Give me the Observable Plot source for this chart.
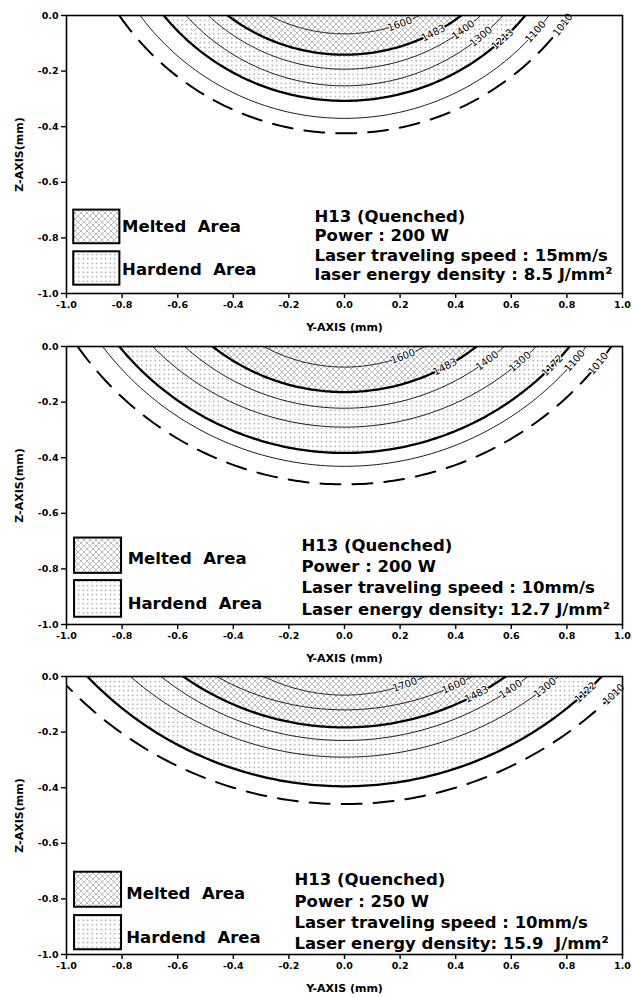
<!DOCTYPE html>
<html><head><meta charset="utf-8">
<script src="https://cdn.jsdelivr.net/npm/d3@7"></script>
<script src="https://cdn.jsdelivr.net/npm/@observablehq/plot@0.6"></script>
<style>
html,body{margin:0;padding:0;background:#fff;}
#charts svg{display:block;}
svg text{white-space:pre;}
</style></head>
<body>
<svg width="0" height="0" style="position:absolute">
<defs>
<pattern id="melt" patternUnits="userSpaceOnUse" width="6" height="6">
<rect width="6" height="6" fill="#fff"/>
<path d="M0,0L6,6M6,0L0,6M-1,5L1,7M5,-1L7,1M-1,1L1,-1M5,7L7,5" stroke="#9c9c9c" stroke-width="0.65" fill="none"/>
<rect x="2.5" y="2.5" width="1" height="1" fill="#b0b0b0"/>
</pattern>
<pattern id="hard" patternUnits="userSpaceOnUse" width="4.5" height="4.5">
<rect width="4.5" height="4.5" fill="#fff"/>
<rect x="1.6" y="1.6" width="1.3" height="1.3" fill="#8a8a8a"/>
</pattern>
</defs></svg>
<div id="charts"></div>
<script>
// ---- data ----
const xTicks = [-1.0, -0.8, -0.6, -0.4, -0.2, 0.0, 0.2, 0.4, 0.6, 0.8, 1.0];
const zTicks = [-1.0, -0.8, -0.6, -0.4, -0.2, 0.0];
const legendLabels = ["Melted  Area", "Hardend  Area"];
const xTitle = "Y-AXIS (mm)";
const zTitle = "Z-AXIS(mm)";

// isotherms (°C): half width at the surface (mm) and depth at the centre (mm)
const p1Isotherms = [1600, 1483, 1400, 1300, 1213, 1100, 1010];
const p1HalfWidth = [0.27, 0.42, 0.49, 0.57, 0.65, 0.735, 0.81];
const p1Depth     = [0.066, 0.141, 0.193, 0.253, 0.307, 0.37, 0.424];
const p1Harden = 1213;
const p1Info = ["H13 (Quenched)", "Power : 200 W", "Laser traveling speed : 15mm/s", "laser energy density : 8.5 J/mm\u00B2"];

const p2Isotherms = [1600, 1483, 1400, 1300, 1172, 1100, 1010];
const p2HalfWidth = [0.29, 0.475, 0.575, 0.69, 0.81, 0.87, 0.96];
const p2Depth     = [0.074, 0.164, 0.222, 0.29, 0.383, 0.431, 0.496];
const p2Harden = 1172;
const p2Info = ["H13 (Quenched)", "Power : 200 W", "Laser traveling speed : 10mm/s", "Laser energy density: 12.7 J/mm\u00B2"];

const p3Isotherms = [1700, 1600, 1483, 1400, 1300, 1122, 1010];
const p3HalfWidth = [0.29, 0.46, 0.58, 0.66, 0.77, 0.925, 1.03];
const p3Depth     = [0.067, 0.12, 0.183, 0.23, 0.29, 0.395, 0.459];
const p3Harden = 1122;
const p3Info = ["H13 (Quenched)", "Power : 250 W", "Laser traveling speed : 10mm/s", "Laser energy density: 15.9  J/mm\u00B2"];

const meltTemp = 1483;
const dashTemp = 1010;

// ---- layout / style (not data) ----
const FONT = "DejaVu Sans";
const layouts = [
  {height: 336, marginTop: 15, marginBottom: 43, labelAt: [0.47, 0.45, 0.27, 0.30, 0.28, 0.16, 0.08],
   infoX: -0.108, infoY: -0.824, lineHeight: 1.18,
   boxX: [-0.974, -0.808], boxM: [-0.821, -0.70], boxH: [-0.97, -0.85], legX: -0.80, legY: [-0.758, -0.915]},
  {height: 330, marginTop: 10, marginBottom: 42, labelAt: [0.49, 0.45, 0.23, 0.19, 0.18, 0.12, 0.125],
   infoX: -0.155, infoY: -0.825, lineHeight: 1.29,
   boxX: [-0.971, -0.802], boxM: [-0.816, -0.689], boxH: [-0.974, -0.842], legX: -0.78, legY: [-0.764, -0.926]},
  {height: 332, marginTop: 10, marginBottom: 44, labelAt: [0.45, 0.28, 0.35, 0.2, 0.14, 0.145, 0.14],
   infoX: -0.18, infoY: -0.842, lineHeight: 1.29,
   boxX: [-0.971, -0.802], boxM: [-0.83, -0.704], boxH: [-0.983, -0.86], legX: -0.785, legY: [-0.78, -0.94]}
];

const panelsData = [
  {iso: p1Isotherms, hw: p1HalfWidth, dp: p1Depth, harden: p1Harden, info: p1Info},
  {iso: p2Isotherms, hw: p2HalfWidth, dp: p2Depth, harden: p2Harden, info: p2Info},
  {iso: p3Isotherms, hw: p3HalfWidth, dp: p3Depth, harden: p3Harden, info: p3Info}
];

// circular arc through (-a,0), (0,-b), (a,0)
function arcGeom(a, b) {
  const c = (a * a - b * b) / (2 * b), R = (a * a + b * b) / (2 * b);
  return {c, R};
}
function arc(a, b, t, n = 140) {
  const {c, R} = arcGeom(a, b);
  const p0 = Math.asin(Math.min(1, a / R));
  return d3.range(n + 1).map(i => {
    const p = -p0 + (2 * p0 * i) / n;
    return {x: R * Math.sin(p), z: c - R * Math.cos(p), t};
  });
}

const fmt = d => d.toFixed(1);

function makePanel(d, L) {
  const contours = d.iso.map((t, i) => ({t, a: d.hw[i], b: d.dp[i], g: L.labelAt[i]}));
  const ptsOf = t => { const c = contours.find(k => k.t === t); return arc(c.a, c.b, t); };
  const thin = contours.filter(c => c.t !== meltTemp && c.t !== d.harden && c.t !== dashTemp).flatMap(c => arc(c.a, c.b, c.t));
  const thick = [meltTemp, d.harden].flatMap(ptsOf);
  const dashed = ptsOf(dashTemp);
  const labels = contours.map(c => {
    const {R, c: cc} = arcGeom(c.a, c.b);
    const z = -c.g * c.b;
    const x = Math.sqrt(Math.max(0, R * R - (cc - z) * (cc - z)));
    return {x, z, text: String(c.t), rot: -Math.atan2(x, cc - z) * 180 / Math.PI};
  });
  const txt = {fontFamily: FONT, fontWeight: "bold", fill: "black"};
  return Plot.plot({
    width: 632, height: L.height,
    marginLeft: 66, marginRight: 10, marginTop: L.marginTop, marginBottom: L.marginBottom,
    style: {background: "white", fontFamily: FONT, overflow: "visible"},
    x: {domain: [-1, 1]},
    y: {domain: [-1, 0]},
    marks: [
      Plot.areaY(ptsOf(d.harden), {x: "x", y1: 0, y2: "z", fill: "url(#hard)", clip: true}),
      Plot.areaY(ptsOf(meltTemp), {x: "x", y1: 0, y2: "z", fill: "url(#melt)", clip: true}),
      Plot.line(thin, {x: "x", y: "z", z: "t", stroke: "black", strokeWidth: 0.9, clip: true}),
      Plot.line(thick, {x: "x", y: "z", z: "t", stroke: "black", strokeWidth: 2.3, clip: true}),
      Plot.line(dashed, {x: "x", y: "z", stroke: "black", strokeWidth: 2, strokeDasharray: "20,12", clip: true}),
      Plot.text(labels, {x: "x", y: "z", text: "text", rotate: "rot", fontFamily: FONT, fontSize: 10,
        fill: "black", stroke: "white", strokeWidth: 2.5, textAnchor: "middle", lineAnchor: "middle"}),
      // legend swatches
      Plot.rect([0], {x1: L.boxX[0], x2: L.boxX[1], y1: L.boxM[0], y2: L.boxM[1], fill: "url(#melt)", stroke: "black", strokeWidth: 2}),
      Plot.rect([0], {x1: L.boxX[0], x2: L.boxX[1], y1: L.boxH[0], y2: L.boxH[1], fill: "url(#hard)", stroke: "black", strokeWidth: 2}),
      Plot.text(legendLabels, {x: L.legX, y: (v, i) => L.legY[i], text: v => v, textAnchor: "start", lineAnchor: "middle", fontSize: 16.5, ...txt}),
      Plot.text([d.info.join("\n")], {x: L.infoX, y: L.infoY, text: v => v, textAnchor: "start", lineAnchor: "middle",
        lineHeight: L.lineHeight, fontSize: 16.5, ...txt}),
      Plot.frame({stroke: "black", strokeWidth: 1.6}),
      Plot.axisX({ticks: xTicks, tickFormat: fmt, tickSize: 5, tickPadding: 3, label: null, fontSize: 9.5, ...txt, stroke: "black", strokeWidth: 1.4}),
      Plot.axisY({ticks: zTicks, tickFormat: fmt, tickSize: 5, tickPadding: 3, label: null, fontSize: 9.5, ...txt, stroke: "black", strokeWidth: 1.4}),
      Plot.text([xTitle], {frameAnchor: "bottom", dy: 34, text: v => v, lineAnchor: "middle", fontSize: 11, ...txt}),
      Plot.text([zTitle], {frameAnchor: "left", dx: -47, rotate: -90, text: v => v, lineAnchor: "middle", textAnchor: "middle", fontSize: 11, ...txt})
    ]
  });
}

const host = document.getElementById("charts");
panelsData.forEach((d, i) => host.appendChild(makePanel(d, layouts[i])));
</script>
</body></html>
